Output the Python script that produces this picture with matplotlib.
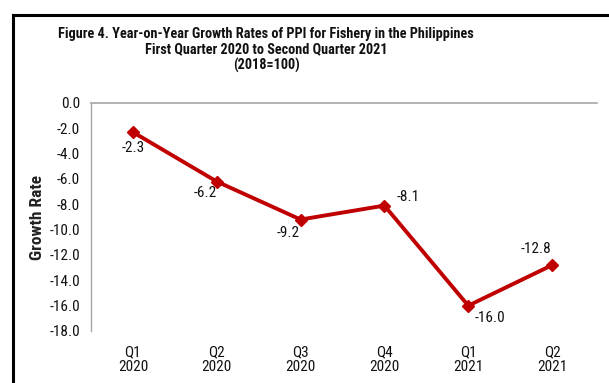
import matplotlib
matplotlib.use("Agg")
import matplotlib.pyplot as plt
from matplotlib.lines import Line2D

plt.rcParams['font.family'] = ['Roboto Condensed', 'DejaVu Sans']

quarters = ["Q1\n2020", "Q2\n2020", "Q3\n2020", "Q4\n2020", "Q1\n2021", "Q2\n2021"]
growth = [-2.3, -6.2, -9.2, -8.1, -16.0, -12.8]
# label offsets in pixels (dx, dy) relative to each point
label_offsets = [(0, -16), (-11, -11), (-12, -13), (24, 9), (22, -12), (-16, 16)]
yticks = [0.0, -2.0, -4.0, -6.0, -8.0, -10.0, -12.0, -14.0, -16.0, -18.0]

W, H = 609, 383
fig = plt.figure(figsize=(W / 100, H / 100), dpi=100)
fig.patch.set_facecolor("white")

# outer frame of the chart (left and top edges visible)
fy = 1 - 15 / H
fx = 13 / W
fig.add_artist(Line2D([fx, fx], [-0.05, fy], transform=fig.transFigure,
                      color="black", linewidth=2.2, solid_capstyle="projecting"))
fig.add_artist(Line2D([fx, 1.05], [fy, fy], transform=fig.transFigure,
                      color="black", linewidth=2.2, solid_capstyle="projecting"))

ax = fig.add_axes([91 / W, 1 - 331 / H, (594 - 91) / W, (331 - 103) / H])
x = list(range(len(growth)))
ax.plot(x, growth, color="#C00000", linewidth=2.8, marker="D", markersize=6,
        markerfacecolor="#C00000", markeredgecolor="#C00000", zorder=3)

for xi, v, (dx, dy) in zip(x, growth, label_offsets):
    ax.annotate(f"{v:.1f}", (xi, v), xytext=(dx, dy), textcoords="offset pixels",
                ha="center", va="center", fontsize=11, color="#111111")

ax.set_xlim(-0.5, 5.5)
ax.set_ylim(-18, 0)
ax.set_yticks(yticks)
ax.set_yticklabels([f"{t:.1f}" for t in yticks])
ax.set_xticks(x)
ax.set_xticklabels(quarters)
ax.tick_params(axis="y", length=0, pad=8, labelsize=11, labelcolor="#111111")
ax.tick_params(axis="x", length=0, pad=10, labelsize=11, labelcolor="#111111")
for lbl in ax.get_xticklabels():
    lbl.set_linespacing(1.1)

for s in ["right", "bottom"]:
    ax.spines[s].set_visible(False)
ax.spines["left"].set_color("#A6A6A6")
ax.spines["top"].set_color("#A6A6A6")
ax.spines["left"].set_linewidth(1.0)
ax.spines["top"].set_linewidth(1.2)
ax.spines["top"].set_bounds(-0.5, 5.53)

fig.text(38 / W, 1 - 218 / H, "Growth Rate", rotation=90, ha="center", va="center",
         fontsize=12.5, fontweight="bold", color="#222222")

title = ("Figure 4. Year-on-Year Growth Rates of PPI for Fishery in the Philippines\n"
         "First Quarter 2020 to Second Quarter 2021\n(2018=100)")
fig.text(266 / W, 1 - 50 / H, title, ha="center", va="center", fontsize=10.3,
         fontweight="bold", color="#111111", linespacing=1.15)

fig.savefig("out.png", dpi=100, facecolor="white")
